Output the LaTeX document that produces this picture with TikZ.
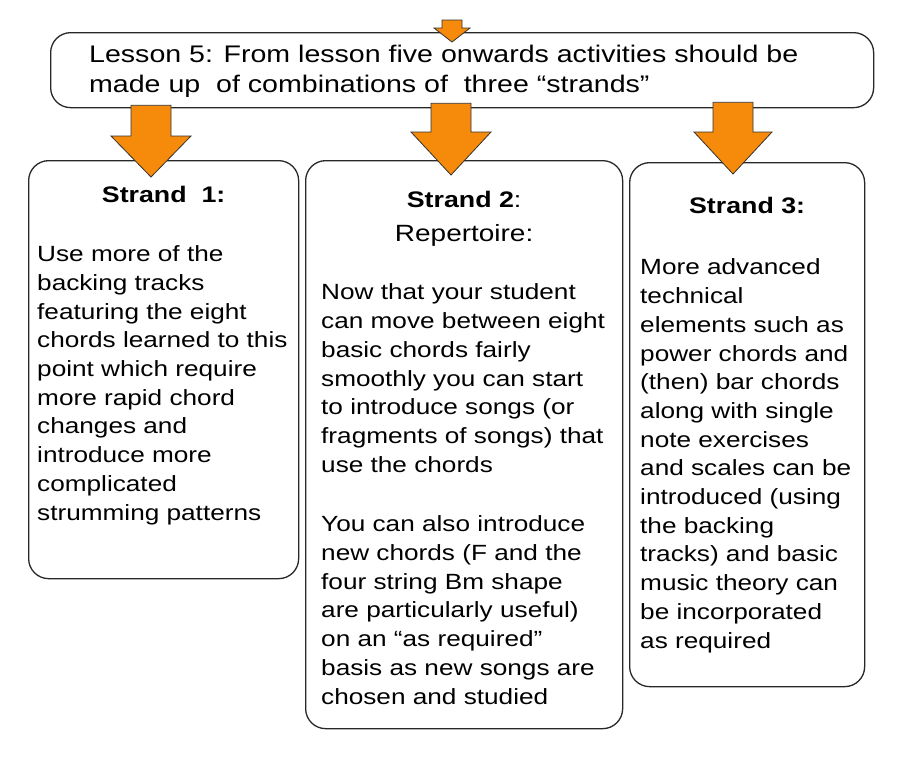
\documentclass[tikz,border=0pt]{standalone}
\usepackage{xcolor}
\usepackage{fontspec}
\setmainfont{Liberation Sans}[FakeStretch=1.19]
\usepackage{tikz}
\usetikzlibrary{calc,positioning}
\definecolor{strandorange}{RGB}{246,138,10}
\definecolor{boxline}{RGB}{40,40,40}

\newcommand{\blockarrow}[5]{%
  \draw[fatarrow] ($(#1)+(-#3,0)$) -- ($(#2)+(-#3,-#5)$) -- ($(#2)+(-#4,-#5)$) -- (#2)
    -- ($(#2)+(#4,-#5)$) -- ($(#2)+(#3,-#5)$) -- ($(#1)+(#3,0)$) -- cycle;}

\begin{document}
\begin{tikzpicture}[x=1pt, y=-1pt,
  roundbox/.style={draw=boxline, line width=1.3pt, rounded corners=20pt, anchor=north west, inner sep=0pt},
  headtext/.style={font=\fontsize{22.5}{26}\selectfont, anchor=base, inner sep=0pt},
  bodytext/.style={font=\fontsize{22}{28.7}\selectfont, align=left, anchor=base west, inner sep=0pt},
  toptext/.style={font=\fontsize{24}{29.5}\selectfont, align=left, anchor=base west, inner sep=0pt},
  fatarrow/.style={fill=strandorange, draw=black!80, line width=0.8pt, line join=miter}]
\useasboundingbox (0,0) rectangle (900,756);

% boxes
\node[roundbox, minimum width=823pt, minimum height=75pt] (lesson) at (50,32) {};
\node[roundbox, minimum width=270pt, minimum height=418pt] (strandA) at (28,160) {};
\node[roundbox, minimum width=317pt, minimum height=568pt] (strandB) at (305,160) {};
\node[roundbox, minimum width=235pt, minimum height=524pt] (strandC) at (629,162) {};

% texts (anchored on the last line)
\node[toptext] (lessontext) at ([xshift=39pt, yshift=-60pt]lesson.north west)
  {Lesson 5: From lesson five onwards activities should be\\made up\ \ of combinations of\ \ three “strands”};

\node[headtext] (headA) at ([yshift=-42pt]strandA.north) {\bfseries Strand\ \ 1:};
\node[bodytext] (bodyA) at ([xshift=9pt, yshift=-360pt]strandA.north west)
  {Use more of the\\backing tracks\\featuring the eight\\chords learned to this\\point which require\\more rapid chord\\changes and\\introduce more\\complicated\\strumming patterns};

\node[headtext] (headB) at ([yshift=-47pt]strandB.north) {\textbf{Strand 2}:};
\node[headtext, font=\fontsize{23.5}{26}\selectfont] (subB) at ([yshift=-81pt]strandB.north) {Repertoire:};
\node[bodytext] (bodyB) at ([xshift=16pt, yshift=-544pt]strandB.north west)
  {Now that your student\\can move between eight\\basic chords fairly\\smoothly you can start\\to introduce songs (or\\fragments of songs) that\\use the chords\\[31pt]You can also introduce\\new chords (F and the\\four string Bm shape\\are particularly useful)\\on an “as required”\\basis as new songs are\\chosen and studied};

\node[headtext] (headC) at ([yshift=-51pt]strandC.north) {\bfseries Strand 3:};
\node[bodytext] (bodyC) at ([xshift=11pt, yshift=-486pt]strandC.north west)
  {More advanced\\technical\\elements such as\\power chords and\\(then) bar chords\\along with single\\note exercises\\and scales can be\\introduced (using\\the backing\\tracks) and basic\\music theory can\\be incorporated\\as required};

% arrows
\coordinate (inTop) at (452,20);
\coordinate (tipTop) at (452,42);
\coordinate (tipA) at (151,177);
\coordinate (tipB) at (451,175);
\coordinate (tipC) at (733,174);
\coordinate (startA) at ([yshift=3pt]lesson.south -| tipA);
\coordinate (startB) at ([yshift=5pt]lesson.south -| tipB);
\coordinate (startC) at ([yshift=6pt]lesson.south -| tipC);

\blockarrow{inTop}{tipTop}{10}{18}{14}
\blockarrow{startA}{tipA}{20}{40}{41}
\blockarrow{startB}{tipB}{20}{40}{43}
\blockarrow{startC}{tipC}{20}{39}{42}
\end{tikzpicture}
\end{document}
